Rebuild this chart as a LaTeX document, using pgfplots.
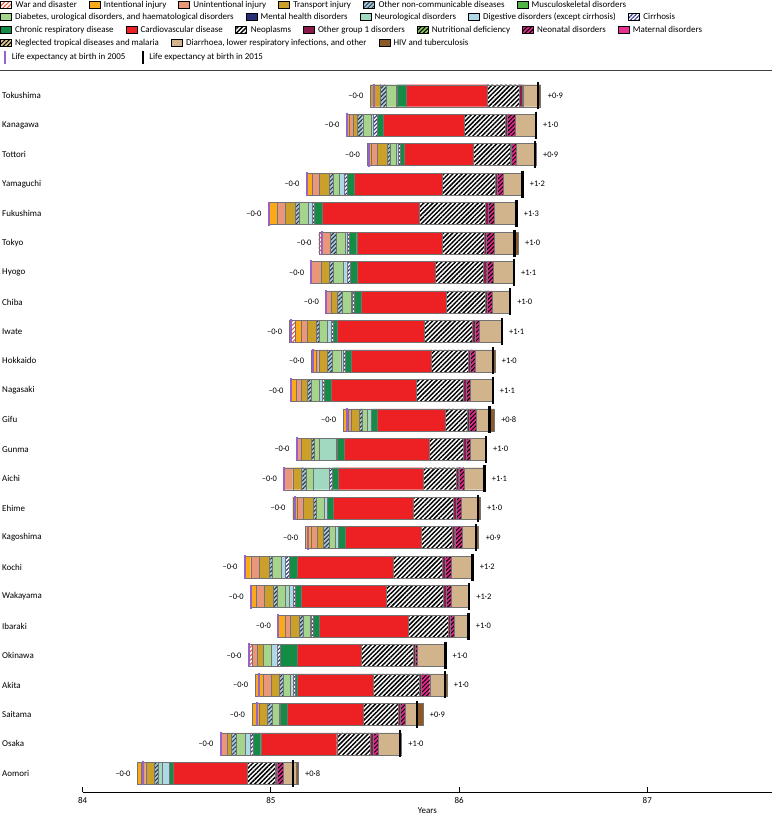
\documentclass[border=0pt]{standalone}
\usepackage{pgfplots}
\pgfplotsset{compat=1.18}
\usepackage{pgfplotstable}
\usetikzlibrary{patterns.meta}
\usepackage{fontspec}
\setmainfont{Carlito}

\definecolor{cwar}{RGB}{232,85,59}
\definecolor{cint}{RGB}{251,169,25}
\definecolor{cunint}{RGB}{234,150,122}
\definecolor{ctrans}{RGB}{202,160,42}
\definecolor{concd}{RGB}{160,200,225}
\definecolor{cmsk}{RGB}{80,180,70}
\definecolor{cdiab}{RGB}{165,212,140}
\definecolor{cment}{RGB}{40,45,120}
\definecolor{cneuro}{RGB}{160,216,192}
\definecolor{cdig}{RGB}{173,216,230}
\definecolor{ccirr}{RGB}{50,55,140}
\definecolor{cchr}{RGB}{20,140,70}
\definecolor{ccvd}{RGB}{237,32,36}
\definecolor{cog1}{RGB}{140,25,75}
\definecolor{cnut}{RGB}{140,200,100}
\definecolor{cneon}{RGB}{225,40,140}
\definecolor{cmat}{RGB}{232,48,140}
\definecolor{cntd}{RGB}{225,205,150}
\definecolor{cdiar}{RGB}{210,180,140}
\definecolor{chiv}{RGB}{140,90,40}
\definecolor{cp05}{RGB}{150,100,200}

\tikzset{
  pat/.style n args={4}{fill=#1, postaction={pattern={Lines[angle=45,distance=#3,line width=#4]}, pattern color=#2}},
  sWar/.style={pat={white}{cwar}{3bp}{1.1bp}},
  sOncd/.style={pat={concd}{black!80}{3bp}{1bp}},
  sCirr/.style={pat={white}{ccirr}{2.8bp}{1.1bp}},
  sNeo/.style={pat={white}{black}{3.2bp}{1.45bp}},
  sNut/.style={pat={cnut}{black}{3bp}{1bp}},
  sNeon/.style={pat={cneon}{black}{3bp}{1bp}},
  sNtd/.style={pat={cntd}{black}{3bp}{1.1bp}},
}

\pgfplotsset{
  base/.style={scale only axis, width=689.3bp, height=721.6bp,
    at={(82.7bp,-792.3bp)}, anchor=south west,
    xmin=84, xmax=87.663, ymin=-0.645, ymax=23.849},
  legrow/.style={hide axis, scale only axis, width=10bp, height=10bp,
    xmin=0, xmax=1, ymin=0, ymax=1, anchor=west,
    legend cell align=left,
    legend style={at={(0,0.5)}, anchor=west, draw=none, fill=none,
      inner sep=0pt, outer sep=0pt, legend columns=-1,
      font=\fontsize{9}{10}\selectfont, nodes={inner sep=0pt},
      /tikz/every odd column/.append style={column sep=3.5bp},
      /tikz/every even column/.append style={column sep=12bp}},
    legend image code/.code={\draw[##1, draw=black, line width=0.5bp] (0bp,-3.5bp) rectangle (11bp,3.5bp);}},
}

% rows: r=23 top (Tokushima) ... r=0 bottom (Aomori); values in years
\pgfplotstableread{
r start war int unint trans oncd diab neuro dig cirr chr cvd neo og1 neon diar hiv p05 p15 rend pos
23 85.530 0 0 0 0.049 0.032 0.053 0 0.007 0 0.050 0.428 0.170 0.018 0.003 0.080 0.013 85.548 86.421 86.434 +0·9
22 85.403 0 0.014 0.021 0.021 0.029 0.043 0 0.011 0.021 0.035 0.429 0.216 0.011 0.043 0.112 0.002 85.406 86.409 86.409 +1·0
21 85.512 0 0.021 0.032 0.053 0.014 0.032 0 0.014 0.011 0.021 0.365 0.195 0.007 0.029 0.094 0.009 85.520 86.402 86.409 +0·9
20 85.190 0 0.032 0.035 0.053 0.021 0.032 0 0.025 0.018 0.036 0.468 0.283 0.011 0.029 0.103 0 85.190 86.338 86.338 +1·2
19 84.988 0 0.046 0.043 0.050 0.024 0.046 0 0.021 0.014 0.043 0.513 0.351 0.018 0.028 0.117 0 84.988 86.306 86.306 +1·3
18 85.254 0.011 0 0.049 0 0.032 0.049 0 0.011 0.011 0.039 0.453 0.223 0.014 0.039 0.110 0.018 85.272 86.295 86.313 +1·0
17 85.215 0 0 0.050 0.043 0.024 0.053 0 0.018 0.018 0.039 0.411 0.258 0.018 0.032 0.113 0 85.215 86.292 86.292 +1·1
16 85.293 0 0 0.028 0.032 0.025 0.049 0 0.007 0.011 0.035 0.450 0.209 0.011 0.025 0.096 0 85.293 86.271 86.271 +1·0
15 85.098 0.032 0.032 0.032 0.046 0.018 0.043 0 0.018 0.011 0.021 0.464 0.255 0.014 0.021 0.124 0 85.105 86.228 86.228 +1·1
14 85.215 0 0.025 0.014 0.043 0.028 0.046 0 0.011 0.011 0.032 0.425 0.198 0.011 0.028 0.092 0.011 85.222 86.179 86.189 +1·0
13 85.105 0 0.028 0.028 0.032 0.021 0.043 0 0.014 0.011 0.039 0.450 0.251 0.014 0.021 0.117 0 85.105 86.179 86.179 +1·1
12 85.385 0 0.025 0.018 0.043 0.014 0.028 0.021 0 0 0.029 0.361 0.120 0.011 0.036 0.071 0.025 85.406 86.161 86.186 +0·8
11 85.137 0 0 0.024 0.053 0.018 0.024 0.089 0.007 0 0.036 0.453 0.181 0.014 0.025 0.078 0 85.137 86.143 86.143 +1·0
10 85.070 0 0 0.046 0.046 0.025 0.036 0.088 0 0.014 0.032 0.453 0.174 0.014 0.028 0.106 0 85.070 86.136 86.136 +1·1
9 85.116 0 0.024 0.032 0.053 0.018 0.039 0 0.018 0 0.032 0.425 0.213 0.014 0.028 0.085 0.014 85.130 86.100 86.111 +1·0
8 85.183 0 0.032 0.029 0.035 0.029 0.035 0 0.014 0 0.039 0.404 0.163 0.014 0.039 0.074 0.014 85.197 86.090 86.104 +0·9
7 84.861 0 0.032 0.046 0.050 0.018 0.049 0 0.018 0.024 0.043 0.510 0.259 0.018 0.032 0.114 0 84.861 86.072 86.072 +1·2
6 84.893 0 0.028 0.043 0.046 0.024 0.043 0.021 0.021 0.011 0.032 0.450 0.304 0.014 0.028 0.096 0 84.893 86.054 86.054 +1·2
5 85.038 0 0.039 0.025 0.049 0.021 0.036 0 0.007 0.011 0.032 0.471 0.213 0.011 0.021 0.078 0 85.038 86.051 86.051 +1·0
4 84.882 0.021 0 0.024 0.032 0 0.043 0 0.029 0.018 0.089 0.343 0.273 0.011 0.014 0.146 0 84.882 85.927 85.927 +1·0
3 84.917 0 0.043 0.043 0.039 0.024 0.036 0 0.014 0.014 0.011 0.401 0.248 0.011 0.043 0.078 0.014 84.935 85.924 85.934 +1·0
2 84.900 0 0.036 0 0.046 0.025 0.036 0 0.007 0 0.036 0.407 0.184 0.011 0.025 0.067 0.029 84.925 85.778 85.807 +0·9
1 84.733 0 0 0.035 0.021 0.029 0.046 0 0.025 0.018 0.039 0.404 0.177 0.018 0.025 0.117 0.007 84.733 85.686 85.693 +1·0
0 84.292 0 0.018 0.025 0.043 0.021 0 0.023 0.036 0 0.021 0.393 0.152 0.007 0.035 0.067 0.011 84.319 85.116 85.144 +0·8
}\data

\begin{document}
\begin{tikzpicture}[x=1bp,y=1bp]
\useasboundingbox (0,0) rectangle (772,-817);
\draw[black!75, line width=0.8bp] (0,-70.7) -- (772,-70.7);

% legend, row by row
\begin{axis}[legrow, at={(0bp,-4.7bp)}]
\addlegendimage{sWar}\addlegendentry{War and disaster}
\addlegendimage{fill=cint}\addlegendentry{Intentional injury}
\addlegendimage{fill=cunint}\addlegendentry{Unintentional injury}
\addlegendimage{fill=ctrans}\addlegendentry{Transport injury}
\addlegendimage{sOncd}\addlegendentry{Other non-communicable diseases}
\addlegendimage{fill=cmsk}\addlegendentry{Musculoskeletal disorders}
\end{axis}
\begin{axis}[legrow, at={(0bp,-16.9bp)}]
\addlegendimage{fill=cdiab}\addlegendentry{Diabetes, urological disorders, and haematological disorders}
\addlegendimage{fill=cment}\addlegendentry{Mental health disorders}
\addlegendimage{fill=cneuro}\addlegendentry{Neurological disorders}
\addlegendimage{fill=cdig}\addlegendentry{Digestive disorders (except cirrhosis)}
\addlegendimage{sCirr}\addlegendentry{Cirrhosis}
\end{axis}
\begin{axis}[legrow, at={(0bp,-30bp)}]
\addlegendimage{fill=cchr}\addlegendentry{Chronic respiratory disease}
\addlegendimage{fill=ccvd}\addlegendentry{Cardiovascular disease}
\addlegendimage{sNeo}\addlegendentry{Neoplasms}
\addlegendimage{fill=cog1}\addlegendentry{Other group 1 disorders}
\addlegendimage{sNut}\addlegendentry{Nutritional deficiency}
\addlegendimage{sNeon}\addlegendentry{Neonatal disorders}
\addlegendimage{fill=cmat}\addlegendentry{Maternal disorders}
\end{axis}
\begin{axis}[legrow, at={(0bp,-42.8bp)}]
\addlegendimage{sNtd}\addlegendentry{Neglected tropical diseases and malaria}
\addlegendimage{fill=cdiar}\addlegendentry{Diarrhoea, lower respiratory infections, and other}
\addlegendimage{fill=chiv}\addlegendentry{HIV and tuberculosis}
\end{axis}
\begin{axis}[legrow, at={(0bp,-57bp)}]
\addlegendimage{legend image code/.code={\path (0bp,0bp) (8bp,0bp); \draw[cp05, line width=1.8bp] (5bp,-6.5bp) -- (5bp,6.5bp);}}
\addlegendentry{Life expectancy at birth in 2005}
\addlegendimage{legend image code/.code={\path (0bp,0bp) (8bp,0bp); \draw[black, line width=1.8bp] (5bp,-6.5bp) -- (5bp,6.5bp);}}
\addlegendentry{Life expectancy at birth in 2015}
\end{axis}

% stacked bars
\begin{axis}[base, xbar stacked, bar width=22bp,
  axis x line*=bottom, axis y line*=left,
  y axis line style={draw=none}, ytick style={draw=none},
  x axis line style={-, line width=0.9bp},
  xtick={84,85,86,87}, xtick style={line width=0.8bp, black},
  tick align=inside, major tick length=5bp,
  ytick={0,...,23},
  yticklabels={Aomori,Osaka,Saitama,Akita,Okinawa,Ibaraki,Wakayama,Kochi,Kagoshima,Ehime,Aichi,Gunma,Gifu,Nagasaki,Hokkaido,Iwate,Chiba,Hyogo,Tokyo,Fukushima,Yamaguchi,Tottori,Kanagawa,Tokushima},
  yticklabel style={anchor=west, xshift=-84bp},
  xticklabel style={yshift=-2bp},
  ticklabel style={font=\fontsize{9}{10}\selectfont},
  /pgf/number format/assume math mode=true,
  xlabel={Years}, xlabel style={font=\fontsize{9}{10}\selectfont, yshift=3bp},
  every axis plot/.append style={draw=black!55, line width=0.35bp}]
\addplot[draw=none, fill=none] table[x=start, y=r] {\data};
\addplot[sWar]         table[x=war,   y=r] {\data};
\addplot[fill=cint]    table[x=int,   y=r] {\data};
\addplot[fill=cunint]  table[x=unint, y=r] {\data};
\addplot[fill=ctrans]  table[x=trans, y=r] {\data};
\addplot[sOncd]        table[x=oncd,  y=r] {\data};
\addplot[fill=cdiab]   table[x=diab,  y=r] {\data};
\addplot[fill=cneuro]  table[x=neuro, y=r] {\data};
\addplot[fill=cdig]    table[x=dig,   y=r] {\data};
\addplot[sCirr]        table[x=cirr,  y=r] {\data};
\addplot[fill=cchr]    table[x=chr,   y=r] {\data};
\addplot[fill=ccvd]    table[x=cvd,   y=r] {\data};
\addplot[sNeo]         table[x=neo,   y=r] {\data};
\addplot[fill=cog1]    table[x=og1,   y=r] {\data};
\addplot[sNeon]        table[x=neon,  y=r] {\data};
\addplot[fill=cdiar]   table[x=diar,  y=r] {\data};
\addplot[fill=chiv]    table[x=hiv,   y=r] {\data};
\end{axis}

% life expectancy markers and labels
\begin{axis}[base, hide axis, clip=false]
\addplot[only marks, mark=|, mark size=12bp, mark options={draw=cp05, line width=2bp}]
  table[x=p05, y=r] {\data};
\addplot[only marks, mark=|, mark size=13.5bp, mark options={draw=black, line width=2.4bp}]
  table[x=p15, y=r] {\data};
\addplot[only marks, mark=none, nodes near coords={–0·0},
  nodes near coords style={anchor=east, xshift=-6bp, inner sep=1bp, font=\fontsize{8.5}{10}\selectfont}]
  table[x=start, y=r] {\data};
\addplot[only marks, mark=none, point meta=explicit symbolic, nodes near coords,
  nodes near coords style={anchor=west, xshift=6bp, inner sep=1bp, font=\fontsize{8.5}{10}\selectfont}]
  table[x=rend, y=r, meta=pos] {\data};
\end{axis}
\end{tikzpicture}
\end{document}
